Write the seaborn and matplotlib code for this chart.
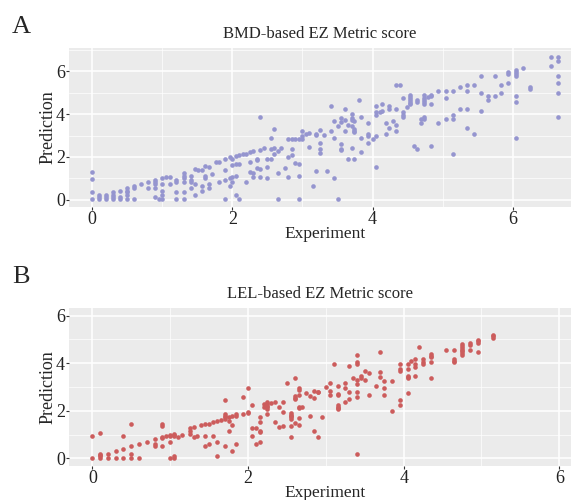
import numpy as np
import pandas as pd
import matplotlib
matplotlib.use("Agg")
import matplotlib.pyplot as plt
from matplotlib.ticker import MultipleLocator
import seaborn as sns

# BMD-based scores: experiment value per column of points, predictions at that value
bmd_exp = [0.00, 0.10, 0.20, 0.30, 0.40, 0.50, 0.60, 0.70, 0.80, 0.90, 0.96, 1.00, 1.05, 1.11,
           1.20, 1.31, 1.41, 1.46, 1.51, 1.56, 1.61, 1.66, 1.71, 1.76, 1.81, 1.90, 1.96, 2.00,
           2.05, 2.10, 2.15, 2.20, 2.25, 2.30, 2.35, 2.40, 2.45, 2.50, 2.55, 2.60, 2.65, 2.70,
           2.75, 2.80, 2.85, 2.90, 2.95, 3.00, 3.05, 3.10, 3.15, 3.19, 3.25, 3.30, 3.35, 3.40,
           3.45, 3.50, 3.55, 3.60, 3.65, 3.70, 3.74, 3.80, 3.84, 3.94, 4.00, 4.05, 4.10, 4.14,
           4.19, 4.24, 4.29, 4.34, 4.39, 4.44, 4.49, 4.54, 4.59, 4.64, 4.69, 4.74, 4.79, 4.84,
           4.94, 5.04, 5.14, 5.24, 5.34, 5.44, 5.54, 5.64, 5.74, 5.83, 5.93, 6.04, 6.14, 6.24,
           6.54, 6.64]
bmd_pred = [[1.27, 0.98, 0.33, 0.02], [0.23, 0.12, 0.02], [0.23, 0.12, 0.02],
            [0.33, 0.23, 0.12, 0.02], [0.42, 0.12, 0.02], [0.53, 0.42, 0.33, 0.23, 0.02],
            [0.62, 0.53, 0.02], [0.71], [0.82, 0.53], [0.93, 0.82, 0.71, 0.53, 0.12], [0.02],
            [1.02, 0.71, 0.42, 0.23, 0.02], [1.07], [1.07, 0.71], [0.93, 0.82, 0.33, 0.02],
            [1.22, 1.12, 1.02, 0.82, 0.33, 0.02], [1.12, 0.93, 0.82, 0.53], [1.43, 0.72, 0.22],
            [1.38], [1.38, 0.62, 0.42], [1.58, 1.12, 1.02], [1.52, 0.72, 0.53], [1.18], [1.77],
            [1.74, 0.82], [1.92, 1.38, 0.92, 0.02], [1.97, 1.02, 0.65], [1.92, 1.63, 1.07, 0.82],
            [2.05, 1.67, 1.12, 0.23], [2.08, 1.67, 0.02], [2.12], [2.12, 0.82],
            [2.23, 1.78, 1.27], [2.28, 1.22, 1.07], [1.88, 1.83, 1.47], [3.88, 2.34, 1.43, 1.07],
            [2.43], [1.92, 1.52, 1.02], [2.88, 2.37, 1.88], [3.29, 2.43, 2.12],
            [2.28, 1.22, 0.02], [2.43], [1.47], [2.85, 1.97, 1.07], [2.82, 2.37, 2.08],
            [2.82, 1.72], [2.82, 1.67, 1.12, 0.02], [3.22, 2.98, 2.82], [3.09],
            [3.12, 2.48], [0.62], [3.07, 3.02, 1.32], [3.27, 2.67, 2.37, 2.17], [3.02], [1.32],
            [4.37, 3.22], [3.67, 2.87, 1.02], [3.43, 0.02], [3.81, 3.62, 2.62, 2.37, 2.33],
            [4.26, 3.72, 3.22], [3.47, 1.92], [4.02, 3.81, 3.72, 3.43, 2.42],
            [3.67, 3.32, 3.22, 3.16, 1.88], [4.67], [3.88, 2.87, 2.22], [3.57, 3.07, 2.98, 2.67],
            [2.82], [4.37, 4.08, 3.97, 2.98, 1.52], [4.12], [4.47, 4.17], [3.57, 3.07],
            [4.37, 4.26, 3.36], [3.67], [5.38, 4.26, 3.47, 3.22], [5.38], [4.78, 4.08, 3.97, 3.88],
            [4.33], [4.91, 4.82, 4.71, 4.62, 4.53, 4.47], [2.53], [4.67, 4.57, 2.37], [3.77, 3.57],
            [4.91, 4.78, 4.67, 4.57, 4.47, 3.88, 3.77], [4.82], [4.91, 4.87, 4.47, 2.53],
            [5.07, 3.57], [5.07, 4.78, 3.77], [5.07, 3.97, 3.77, 2.12], [5.27, 4.26],
            [5.38, 5.07, 4.26, 3.36], [5.38, 3.07], [5.77, 4.98, 4.17], [4.87, 4.67], [5.77, 4.87],
            [5.38, 4.98], [5.97, 5.88, 5.47], [6.08, 5.97, 5.88, 5.77, 4.87, 4.57, 2.87], [6.17],
            [5.27, 5.16], [6.67, 6.26], [6.67, 6.47, 5.77, 5.47, 4.98, 3.88]]

# LEL-based scores
lel_exp = [0.00, 0.10, 0.20, 0.30, 0.40, 0.50, 0.60, 0.70, 0.80, 0.90, 0.95, 1.00, 1.05, 1.10,
           1.15, 1.25, 1.30, 1.35, 1.40, 1.45, 1.50, 1.55, 1.60, 1.65, 1.70, 1.75, 1.80, 1.85,
           1.94, 2.00, 2.05, 2.10, 2.15, 2.20, 2.25, 2.30, 2.35, 2.40, 2.45, 2.50, 2.55, 2.60,
           2.65, 2.70, 2.75, 2.80, 2.85, 2.90, 2.95, 3.00, 3.05, 3.10, 3.15, 3.25, 3.30, 3.35,
           3.40, 3.45, 3.50, 3.55, 3.65, 3.70, 3.75, 3.85, 3.95, 4.05, 4.10, 4.15, 4.20, 4.25,
           4.35, 4.55, 4.65, 4.75, 4.85, 4.95, 5.15]
lel_pred = [[0.94, 0.0], [1.05, 0.20, 0.14, 0.08, 0.0], [0.20, 0.0], [0.29, 0.0],
            [0.94, 0.39, 0.0], [1.45, 0.50, 0.20, 0.0], [0.60, 0.0], [0.70], [0.80, 0.60, 0.50],
            [1.45, 1.36, 0.90, 0.85, 0.50], [0.95], [0.99, 0.95, 0.70, 0.0],
            [1.03, 0.99, 0.95, 0.08, 0.0], [0.90], [0.99], [1.26, 1.15, 1.03], [1.30, 0.90],
            [0.95], [1.40], [1.43, 0.95, 0.50], [1.45, 0.60], [1.52, 0.95], [1.59, 0.70, 0.10],
            [1.62], [2.45, 1.86, 1.80, 1.73, 1.66, 0.50], [1.73, 1.57, 1.15], [1.79, 1.40, 0.29],
            [1.86, 1.79, 0.59], [2.56, 1.86], [2.95, 1.96, 1.92], [2.25, 1.29, 0.95], [1.26, 0.59],
            [1.73, 1.51, 1.15, 1.10, 0.69], [2.29, 2.15], [2.36, 2.29, 2.22, 2.15, 2.08, 1.86],
            [2.32], [2.36, 1.55], [2.15, 1.34], [2.39, 1.94, 1.37], [3.16],
            [1.90, 1.83, 1.79, 1.73, 1.66, 1.37, 0.91], [3.37, 2.62, 2.55, 2.48, 1.50],
            [2.94, 2.87, 2.66, 2.14, 2.10, 1.71, 1.40], [2.18], [2.76], [2.62, 1.80],
            [2.85, 2.55, 1.15], [2.81, 2.77, 0.90], [1.75], [3.01], [3.16, 2.85, 2.66], [3.97],
            [3.06, 2.71, 2.66, 2.25, 2.18, 2.13, 2.06], [3.16, 2.95, 2.35], [3.87, 2.81, 2.50],
            [3.36], [4.36, 4.07, 3.97, 3.31, 3.12, 2.81, 2.60, 0.20], [3.45, 3.36], [3.66, 3.30],
            [3.57, 2.66], [3.06], [4.46, 3.61, 3.41], [3.26, 2.97, 2.66], [3.26, 2.00],
            [3.97, 3.76, 3.68, 2.46, 2.25], [3.97, 3.76, 3.45, 3.41, 3.36, 2.76], [4.11],
            [4.17, 3.96, 3.86, 3.47], [4.67], [4.17, 4.07, 3.97], [4.39, 4.32, 4.24, 4.06, 3.36],
            [4.56], [4.56, 4.18, 4.10, 4.03], [4.80, 4.73, 4.66, 4.57, 4.50, 4.42, 4.35],
            [4.87, 4.77, 4.56], [4.98, 4.92, 4.87, 4.46], [5.20, 5.15, 5.08]]


def to_frame(exp, pred):
    rows = [(x, p) for x, ps in zip(exp, pred) for p in ps]
    return pd.DataFrame(rows, columns=["Experiment", "Prediction"])


df_bmd = to_frame(bmd_exp, bmd_pred)
df_lel = to_frame(lel_exp, lel_pred)

sns.set_theme(style="darkgrid", rc={
    "axes.facecolor": "#EBEBEB",
    "grid.color": "white",
    "axes.edgecolor": "#EBEBEB",
    "xtick.bottom": True,
    "ytick.left": True,
    "xtick.color": "#333333",
    "ytick.color": "#333333",
    "xtick.major.size": 2.5,
    "ytick.major.size": 2.5,
    "xtick.major.width": 0.8,
    "ytick.major.width": 0.8,
})
plt.rcParams["font.family"] = ["Liberation Serif", "DejaVu Serif"]

fig = plt.figure(figsize=(5.72, 5.0), dpi=100)
ax1 = fig.add_axes([69 / 572, 1 - 207 / 500, 502 / 572, 159 / 500])
ax2 = fig.add_axes([69 / 572, 1 - 466 / 500, 502 / 572, 158 / 500])

panels = [
    (ax1, df_bmd, "#9595CF", "BMD-based EZ Metric score", (-0.33, 6.83), (-0.35, 7.1), "A"),
    (ax2, df_lel, "#CC5C5C", "LEL-based EZ Metric score", (-0.30, 6.15), (-0.32, 6.32), "B"),
]

for ax, df, col, title, xl, yl, letter in panels:
    sns.scatterplot(data=df, x="Experiment", y="Prediction", ax=ax, color=col,
                    s=11, linewidth=0, legend=False)
    ax.set_xlim(*xl)
    ax.set_ylim(*yl)
    ax.xaxis.set_major_locator(MultipleLocator(2))
    ax.yaxis.set_major_locator(MultipleLocator(2))
    ax.xaxis.set_minor_locator(MultipleLocator(1))
    ax.yaxis.set_minor_locator(MultipleLocator(1))
    ax.grid(which="major", color="white", linewidth=1.1)
    ax.grid(which="minor", color="white", linewidth=0.5)
    ax.tick_params(which="minor", length=0)
    ax.tick_params(which="major", labelsize=13, labelcolor="#222222", pad=0.5)
    ax.set_title(title, fontsize=12, pad=7)
    ax.set_xlabel("Experiment", fontsize=12.5)
    ax.set_ylabel("Prediction", fontsize=13)
    h = ax.get_position().height * 500
    ax.xaxis.set_label_coords(0.51, -19 / h)
    ax.yaxis.set_label_coords(-12 / 502, 0.5)
    for sp in ax.spines.values():
        sp.set_visible(False)

fig.text(12 / 572, 1 - 27 / 500, "A", fontsize=19, va="center", ha="left")
fig.text(12 / 572, 1 - 277 / 500, "B", fontsize=19, va="center", ha="left")

fig.savefig("out.png", dpi=100)
